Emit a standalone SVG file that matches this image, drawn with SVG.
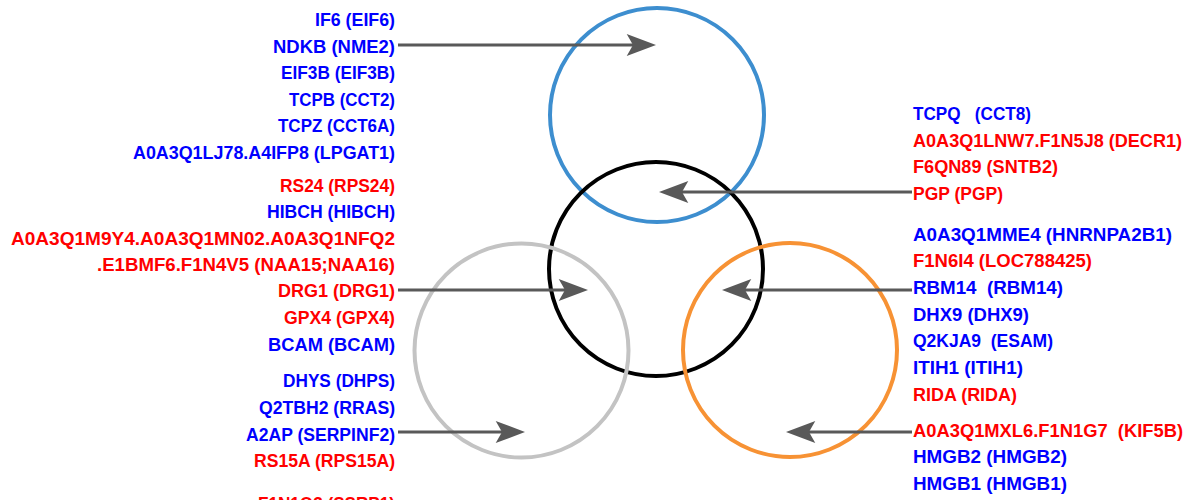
<svg xmlns="http://www.w3.org/2000/svg" width="1190" height="500" viewBox="0 0 1190 500">
<style>
text{font-family:"Liberation Sans",Arial,sans-serif;font-weight:bold;font-size:18px}
.b{fill:#0000ff}
.r{fill:#ff0000}
.l{text-anchor:end}
.ring{fill:none;stroke-width:4}
.arr{stroke:#595959;stroke-width:3;fill:none}
</style>
<defs>
<marker id="ah" markerUnits="userSpaceOnUse" markerWidth="30" markerHeight="22" viewBox="0 0 28 21" refX="6" refY="10.5" orient="auto">
<path d="M0,0 L28,10.5 L0,21 L6,10.5 Z" fill="#595959"/>
</marker>
</defs>
<g id="circle-blue"><circle class="ring" cx="657" cy="115" r="107" stroke="#3d8ecf"/></g>
<g id="circle-black"><circle class="ring" cx="656" cy="269" r="107" stroke="#000000"/></g>
<g id="circle-gray"><circle class="ring" cx="521.5" cy="350.5" r="107" stroke="#c3c3c3"/></g>
<g id="circle-orange"><circle class="ring" cx="790" cy="350" r="107" stroke="#f79234"/></g>
<g id="connectors">
<line class="arr" x1="398" y1="45" x2="633" y2="45" marker-end="url(#ah)"/>
<line class="arr" x1="912" y1="192" x2="682" y2="192" marker-end="url(#ah)"/>
<line class="arr" x1="398" y1="290" x2="565" y2="290" marker-end="url(#ah)"/>
<line class="arr" x1="912" y1="290" x2="745" y2="290" marker-end="url(#ah)"/>
<line class="arr" x1="398" y1="432" x2="502" y2="432" marker-end="url(#ah)"/>
<line class="arr" x1="912" y1="432" x2="809" y2="432" marker-end="url(#ah)"/>
</g>
<g id="labels-left">
<text class="b l" x="395" y="26" textLength="80" lengthAdjust="spacingAndGlyphs">IF6 (EIF6)</text>
<text class="b l" x="395" y="52.7" textLength="122" lengthAdjust="spacingAndGlyphs">NDKB (NME2)</text>
<text class="b l" x="395" y="79.2" textLength="114" lengthAdjust="spacingAndGlyphs">EIF3B (EIF3B)</text>
<text class="b l" x="395" y="105.8" textLength="106" lengthAdjust="spacingAndGlyphs">TCPB (CCT2)</text>
<text class="b l" x="395" y="132.4" textLength="117" lengthAdjust="spacingAndGlyphs">TCPZ (CCT6A)</text>
<text class="b l" x="395" y="159" textLength="262" lengthAdjust="spacingAndGlyphs">A0A3Q1LJ78.A4IFP8 (LPGAT1)</text>
<text class="r l" x="395" y="191.7" textLength="115" lengthAdjust="spacingAndGlyphs">RS24 (RPS24)</text>
<text class="b l" x="395" y="218.3" textLength="128" lengthAdjust="spacingAndGlyphs">HIBCH (HIBCH)</text>
<text class="r l" x="395" y="244.5" textLength="384" lengthAdjust="spacingAndGlyphs">A0A3Q1M9Y4.A0A3Q1MN02.A0A3Q1NFQ2</text>
<text class="r l" x="395" y="271" textLength="298" lengthAdjust="spacingAndGlyphs">.E1BMF6.F1N4V5 (NAA15;NAA16)</text>
<text class="r l" x="395" y="297.3" textLength="117" lengthAdjust="spacingAndGlyphs">DRG1 (DRG1)</text>
<text class="r l" x="395" y="324" textLength="111" lengthAdjust="spacingAndGlyphs">GPX4 (GPX4)</text>
<text class="b l" x="395" y="350.7" textLength="127" lengthAdjust="spacingAndGlyphs">BCAM (BCAM)</text>
<text class="b l" x="395" y="387.3" textLength="112" lengthAdjust="spacingAndGlyphs">DHYS (DHPS)</text>
<text class="b l" x="395" y="414" textLength="136" lengthAdjust="spacingAndGlyphs">Q2TBH2 (RRAS)</text>
<text class="b l" x="395" y="440.5" textLength="149" lengthAdjust="spacingAndGlyphs">A2AP (SERPINF2)</text>
<text class="r l" x="395" y="466.7" textLength="141" lengthAdjust="spacingAndGlyphs">RS15A (RPS15A)</text>
<text class="r l" x="395" y="510" textLength="137" lengthAdjust="spacingAndGlyphs">F1N1Q3 (SSRP1)</text>
</g>
<g id="labels-right">
<text class="b" x="913" y="120" textLength="118" lengthAdjust="spacingAndGlyphs" xml:space="preserve">TCPQ   (CCT8)</text>
<text class="r" x="913" y="146.7" textLength="269" lengthAdjust="spacingAndGlyphs">A0A3Q1LNW7.F1N5J8 (DECR1)</text>
<text class="r" x="913" y="173.3" textLength="145" lengthAdjust="spacingAndGlyphs">F6QN89 (SNTB2)</text>
<text class="r" x="913" y="200" textLength="90" lengthAdjust="spacingAndGlyphs">PGP (PGP)</text>
<text class="b" x="913" y="240.7" textLength="259" lengthAdjust="spacingAndGlyphs">A0A3Q1MME4 (HNRNPA2B1)</text>
<text class="r" x="913" y="267.3" textLength="179" lengthAdjust="spacingAndGlyphs">F1N6I4 (LOC788425)</text>
<text class="b" x="913" y="294" textLength="150" lengthAdjust="spacingAndGlyphs" xml:space="preserve">RBM14  (RBM14)</text>
<text class="b" x="913" y="320.7" textLength="116" lengthAdjust="spacingAndGlyphs">DHX9 (DHX9)</text>
<text class="b" x="913" y="347.3" textLength="140" lengthAdjust="spacingAndGlyphs" xml:space="preserve">Q2KJA9  (ESAM)</text>
<text class="b" x="913" y="374" textLength="110" lengthAdjust="spacingAndGlyphs">ITIH1 (ITIH1)</text>
<text class="r" x="913" y="400.7" textLength="104" lengthAdjust="spacingAndGlyphs">RIDA (RIDA)</text>
<text class="r" x="913" y="436.7" textLength="270" lengthAdjust="spacingAndGlyphs" xml:space="preserve">A0A3Q1MXL6.F1N1G7  (KIF5B)</text>
<text class="b" x="913" y="463.3" textLength="154" lengthAdjust="spacingAndGlyphs">HMGB2 (HMGB2)</text>
<text class="b" x="913" y="490" textLength="154" lengthAdjust="spacingAndGlyphs">HMGB1 (HMGB1)</text>
</g>
</svg>
